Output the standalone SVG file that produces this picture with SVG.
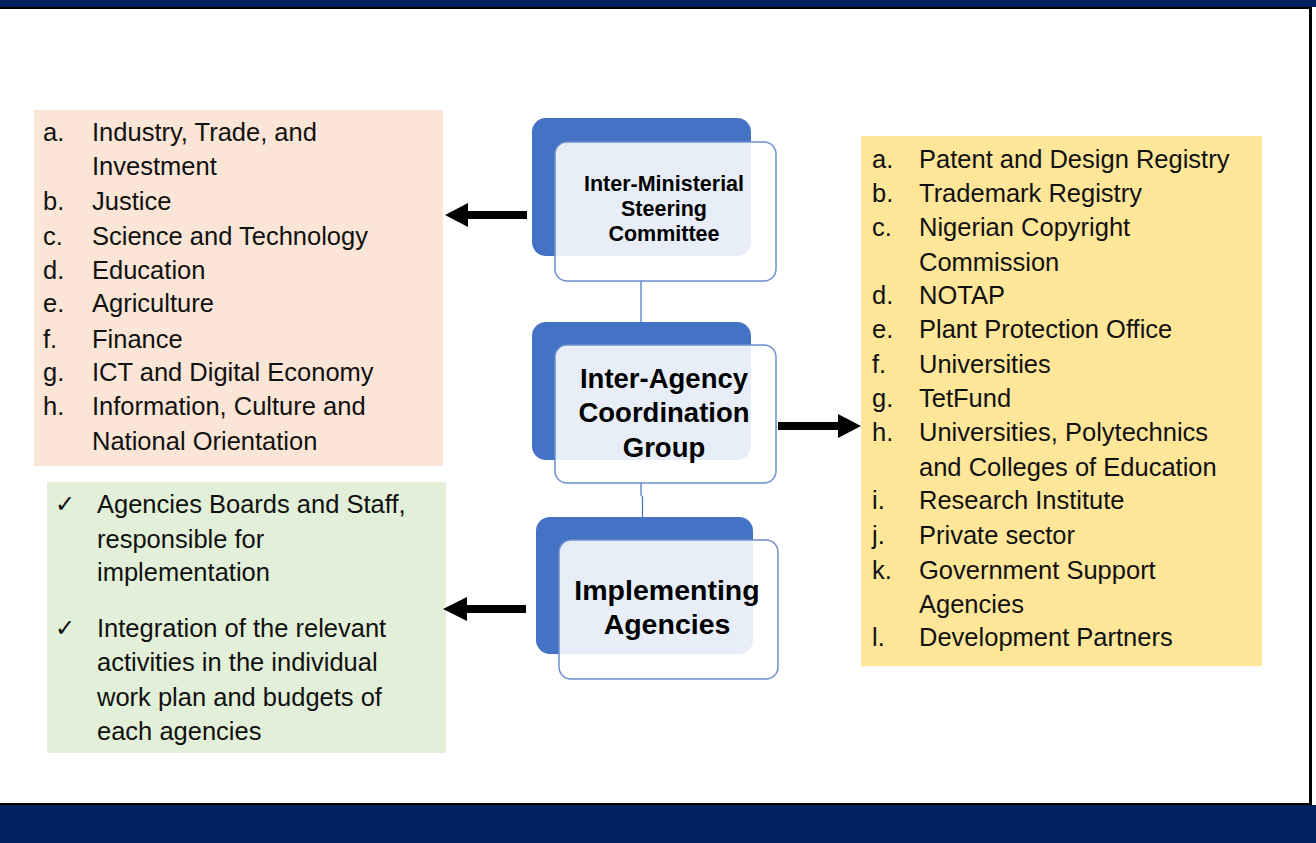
<svg xmlns="http://www.w3.org/2000/svg" width="1316" height="843" viewBox="0 0 1316 843">
<style>
.t{font-family:"Liberation Sans",Arial,sans-serif;font-size:25.5px;fill:#111}
.b{font-family:"Liberation Sans",Arial,sans-serif;font-weight:bold;fill:#000;text-anchor:middle}
.ck{font-family:"DejaVu Sans",sans-serif;font-size:24px;fill:#111}
.back{fill:#4472C4}
.front{fill:#ffffff;fill-opacity:0.88;stroke:#6F8FD0;stroke-width:1.5}
.conn{fill:none;stroke:#4472C4;stroke-width:1.2}
.arr{fill:#000}
</style>
<rect x="0" y="0" width="1316" height="843" fill="#ffffff"/>
<rect x="0" y="0" width="1316" height="7" fill="#002060"/>
<rect x="0" y="7" width="1312" height="2" fill="#000"/>
<rect x="1309" y="7" width="3" height="798" fill="#000"/>
<rect x="0" y="803" width="1312" height="2" fill="#000"/>
<rect x="0" y="805" width="1316" height="38" fill="#002060"/>

<g id="ministries">
<rect x="34" y="110" width="409" height="356" fill="#FBE5D6"/>
<text class="t" x="43" y="141">a.</text><text class="t" x="92" y="141">Industry, Trade, and</text>
<text class="t" x="92" y="175">Investment</text>
<text class="t" x="43" y="210">b.</text><text class="t" x="92" y="210">Justice</text>
<text class="t" x="43" y="245">c.</text><text class="t" x="92" y="245">Science and Technology</text>
<text class="t" x="43" y="279">d.</text><text class="t" x="92" y="279">Education</text>
<text class="t" x="43" y="312">e.</text><text class="t" x="92" y="312">Agriculture</text>
<text class="t" x="43" y="348">f.</text><text class="t" x="92" y="348">Finance</text>
<text class="t" x="43" y="381">g.</text><text class="t" x="92" y="381">ICT and Digital Economy</text>
<text class="t" x="43" y="415">h.</text><text class="t" x="92" y="415">Information, Culture and</text>
<text class="t" x="92" y="450">National Orientation</text>
</g>

<g id="agencies-list">
<rect x="861" y="136" width="401" height="530" fill="#FFE699"/>
<text class="t" x="872" y="168">a.</text><text class="t" x="919" y="168">Patent and Design Registry</text>
<text class="t" x="872" y="202">b.</text><text class="t" x="919" y="202">Trademark Registry</text>
<text class="t" x="872" y="236">c.</text><text class="t" x="919" y="236">Nigerian Copyright</text>
<text class="t" x="919" y="271">Commission</text>
<text class="t" x="872" y="304">d.</text><text class="t" x="919" y="304">NOTAP</text>
<text class="t" x="872" y="338">e.</text><text class="t" x="919" y="338">Plant Protection Office</text>
<text class="t" x="872" y="373">f.</text><text class="t" x="919" y="373">Universities</text>
<text class="t" x="872" y="407">g.</text><text class="t" x="919" y="407">TetFund</text>
<text class="t" x="872" y="441">h.</text><text class="t" x="919" y="441">Universities, Polytechnics</text>
<text class="t" x="919" y="476">and Colleges of Education</text>
<text class="t" x="872" y="509">i.</text><text class="t" x="919" y="509">Research Institute</text>
<text class="t" x="872" y="544">j.</text><text class="t" x="919" y="544">Private sector</text>
<text class="t" x="872" y="579">k.</text><text class="t" x="919" y="579">Government Support</text>
<text class="t" x="919" y="613">Agencies</text>
<text class="t" x="872" y="646">l.</text><text class="t" x="919" y="646">Development Partners</text>
</g>

<g id="implementation-notes">
<rect x="47" y="482" width="399" height="271" fill="#E2F0D9"/>
<text class="ck" x="55" y="512">✓</text>
<text class="t" x="97" y="513">Agencies Boards and Staff,</text>
<text class="t" x="97" y="548">responsible for</text>
<text class="t" x="97" y="581">implementation</text>
<text class="ck" x="55" y="636">✓</text>
<text class="t" x="97" y="637">Integration of the relevant</text>
<text class="t" x="97" y="671">activities in the individual</text>
<text class="t" x="97" y="706">work plan and budgets of</text>
<text class="t" x="97" y="740">each agencies</text>
</g>

<g id="connectors">
<path class="conn" d="M641 281 V322"/>
<path class="conn" d="M641 483 V495 L642.5 497 V517"/>
<polygon class="arr" points="527,211 468,211 468,203 445,215 468,227 468,219 527,219"/>
<polygon class="arr" points="778,422 838,422 838,414 861,426 838,438 838,430 778,430"/>
<polygon class="arr" points="526,605 467,605 467,597 443,609 467,621 467,613 526,613"/>
</g>

<g id="steering-committee">
<rect class="back" x="532" y="118" width="219" height="138" rx="14"/>
<rect class="front" x="555" y="142" width="221" height="139" rx="12"/>
<text class="b" x="664" y="191" font-size="21.5">Inter-Ministerial</text>
<text class="b" x="664" y="216" font-size="21.5">Steering</text>
<text class="b" x="664" y="241" font-size="21.5">Committee</text>
</g>

<g id="coordination-group">
<rect class="back" x="532" y="322" width="219" height="138" rx="14"/>
<rect class="front" x="555" y="345" width="221" height="138" rx="12"/>
<text class="b" x="664" y="388" font-size="27.5">Inter-Agency</text>
<text class="b" x="664" y="422" font-size="27.5">Coordination</text>
<text class="b" x="664" y="457" font-size="27.5">Group</text>
</g>

<g id="implementing-agencies">
<rect class="back" x="536" y="517" width="217" height="137" rx="14"/>
<rect class="front" x="559" y="540" width="219" height="139" rx="12"/>
<text class="b" x="667" y="600" font-size="28.5">Implementing</text>
<text class="b" x="667" y="634" font-size="28.5">Agencies</text>
</g>
</svg>
